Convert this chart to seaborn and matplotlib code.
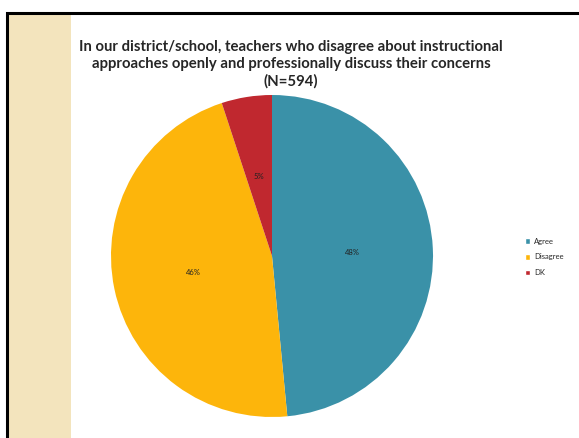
import numpy as np
import matplotlib
matplotlib.use("Agg")
import matplotlib.pyplot as plt
import seaborn as sns
from matplotlib.patches import Rectangle

sns.set_style("white")
plt.rcParams['font.family'] = ['Lato', 'DejaVu Sans']

# data
categories = ["Agree", "Disagree", "DK"]
shares = [48, 46, 5]
pct_labels = ["48%", "46%", "5%"]
colors = ["#3a91a8", "#fdb50b", "#c0282f"]
title = ("In our district/school, teachers who disagree about instructional\n"
         "approaches openly and professionally discuss their concerns\n(N=594)")

W, H = 579, 438
fig = plt.figure(figsize=(W / 100, H / 100), dpi=100)
fig.patch.set_facecolor("white")

# slide frame and beige side strip
fig.patches.append(Rectangle((9 / W, 0), 62 / W, (H - 14) / H, transform=fig.transFigure,
                             facecolor="#f3e4bd", edgecolor="none", zorder=0))
fig.patches.append(Rectangle((7 / W, -0.02), 1.0, (H - 13) / H + 0.02, transform=fig.transFigure,
                             facecolor="none", edgecolor="black", linewidth=2.2, zorder=1))

# pie axes: centre (272, 256) px, radius 161 px
cx, cy, r = 272, 256, 161
ax = fig.add_axes([(cx - r) / W, (H - cy - r) / H, 2 * r / W, 2 * r / H])
wedges, _ = ax.pie(shares, colors=colors, startangle=90, counterclock=False,
                   radius=1.0, wedgeprops=dict(linewidth=0))
ax.set_aspect("equal")
ax.set_xlim(-1, 1)
ax.set_ylim(-1, 1)
ax.axis("off")

for w, lab in zip(wedges, pct_labels):
    ang = np.deg2rad((w.theta1 + w.theta2) / 2)
    ax.text(0.5 * np.cos(ang), 0.5 * np.sin(ang), lab, ha="center", va="center",
            fontsize=5.5, color="#222222")

fig.text(291 / W, 1 - 64.5 / H, title, ha="center", va="center", fontsize=10.7,
         fontweight="bold", linespacing=1.25)

handles = [Rectangle((0, 0), 1, 1, facecolor=c) for c in colors]
fig.legend(handles, categories, loc="center left", bbox_to_anchor=(518 / W, 1 - 257 / H),
           frameon=False, fontsize=5.5, handlelength=0.7, handleheight=0.7,
           handletextpad=0.5, labelspacing=1.15)

fig.savefig("out.png", dpi=100)
